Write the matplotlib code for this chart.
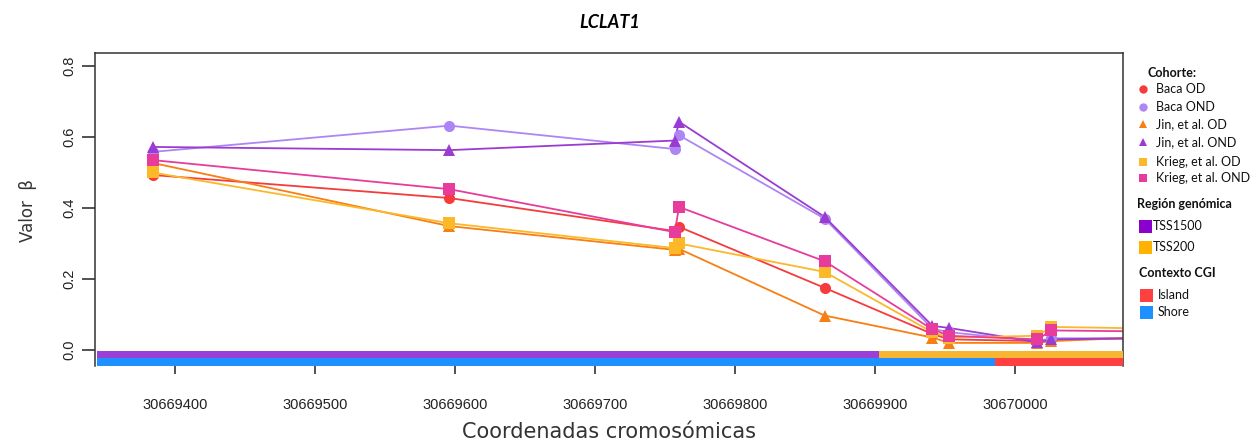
import matplotlib
matplotlib.use("Agg")
import matplotlib.pyplot as plt
from matplotlib.patches import Rectangle

# CpG coordinates (last one lies just beyond the plotted window)
positions = [30669384, 30669596, 30669757, 30669760, 30669864,
             30669941, 30669953, 30670016, 30670026, 30670150]

cohorts = ["Baca OD", "Baca OND", "Jin, et al. OD", "Jin, et al. OND",
           "Krieg, et al. OD", "Krieg, et al. OND"]
baca_od = [0.493, 0.428, 0.335, 0.347, 0.175, 0.045, 0.030, 0.025, 0.030, 0.036]
baca_ond = [0.558, 0.632, 0.566, 0.605, 0.370, 0.060, 0.050, 0.025, 0.033, 0.033]
jin_od = [0.527, 0.349, 0.282, 0.285, 0.097, 0.035, 0.020, 0.020, 0.025, 0.045]
jin_ond = [0.572, 0.563, 0.590, 0.643, 0.375, 0.068, 0.062, 0.022, 0.030, 0.036]
krieg_od = [0.500, 0.357, 0.287, 0.300, 0.220, 0.050, 0.035, 0.040, 0.065, 0.057]
krieg_ond = [0.535, 0.453, 0.332, 0.403, 0.250, 0.058, 0.040, 0.030, 0.055, 0.050]
series = [baca_od, baca_ond, jin_od, jin_ond, krieg_od, krieg_ond]
colors = ["#F53B3B", "#AD85F5", "#F77F14", "#9A3BD1", "#FBB829", "#E83C9C"]
markers = ["o", "o", "^", "^", "s", "s"]

# Annotation tracks
region_names = ["TSS1500", "TSS200"]
region_bounds = [30669344, 30669903, 30670077]
region_colors = ["#9B40D6", "#F8B531"]
region_legend_colors = ["#8A00CC", "#FFB300"]

cgi_names = ["Island", "Shore"]
cgi_bounds = [30669344, 30669986, 30670077]
cgi_track_colors = ["#1E90FF", "#FF4040"]   # Shore then Island along the track
cgi_legend_colors = ["#FF4040", "#1E90FF"]

xticks = [30669400, 30669500, 30669600, 30669700, 30669800, 30669900, 30670000]
yticks = [0.0, 0.2, 0.4, 0.6, 0.8]

W, H = 1260, 441
fig = plt.figure(figsize=(W / 100, H / 100), dpi=100)
ax = fig.add_axes([95 / W, 1 - 366 / H, (1123 - 95) / W, (366 - 53) / H])
ax.set_xlim(30669342.9, 30670077.1)
ax.set_ylim(-0.0451, 0.8366)

for vals, c in zip(series, colors):
    ax.plot(positions, vals, color=c, lw=1.3, zorder=2)
for vals, c, m in zip(series, colors, markers):
    ms = 9 if m == "^" else 8
    ax.plot(positions, vals, linestyle="none", marker=m, color=c,
            markersize=ms, markeredgewidth=0, zorder=3)

# genomic region track and CGI context track
for i in range(2):
    ax.add_patch(Rectangle((region_bounds[i], -0.0225),
                           region_bounds[i + 1] - region_bounds[i], 0.0197,
                           facecolor=region_colors[i], edgecolor="none", zorder=4))
    ax.add_patch(Rectangle((cgi_bounds[i], -0.0451),
                           cgi_bounds[i + 1] - cgi_bounds[i], 0.0226,
                           facecolor=cgi_track_colors[i], edgecolor="none", zorder=4))

for s in ["left", "top", "right"]:
    ax.spines[s].set_color("#333333")
    ax.spines[s].set_linewidth(1.1)
ax.spines["bottom"].set_visible(False)

ax.set_xticks(xticks)
ax.set_xticklabels([str(t) for t in xticks], family="Liberation Sans", fontsize=10.5)
ax.tick_params(axis="x", direction="out", length=6, width=1.1, pad=17, colors="#222222")
ax.set_yticks(yticks)
ax.set_yticklabels([f"{t:.1f}" for t in yticks], family="Liberation Sans",
                   fontsize=10.5, rotation=90, va="center")
ax.tick_params(axis="y", direction="out", length=9.5, width=1.1, pad=4, colors="#222222")

fig.text(610 / W, 1 - 22 / H, "LCLAT1", ha="center", va="center",
         family="Lato", fontweight="bold", fontstyle="italic", fontsize=13)
fig.text(609 / W, 1 - 432 / H, "Coordenadas cromosómicas", ha="center", va="center",
         family="DejaVu Sans", fontsize=15, color="#333333")
fig.text(28 / W, 1 - 210 / H, "Valor  β", ha="center", va="center", rotation=90,
         family="DejaVu Sans", fontsize=12, color="#333333")

# legend drawn in pixel coordinates on an overlay
lg = fig.add_axes([0, 0, 1, 1], facecolor="none")
lg.set_xlim(0, W)
lg.set_ylim(H, 0)
lg.axis("off")

lfont = dict(family="Lato", fontsize=9, va="center", ha="left", color="#111111")
lg.text(1147, 73, "Cohorte:", fontweight="bold", **lfont)
cohort_y = [89, 107, 124, 142, 162, 178]
for name, c, m, y in zip(cohorts, colors, markers, cohort_y):
    lg.plot([1143], [y], marker=m, color=c, markersize=6 if m != "s" else 5.5,
            markeredgewidth=0, linestyle="none")
    lg.text(1156, y, name, **lfont)

lg.text(1137, 204, "Región genómica", fontweight="bold", **lfont)
for name, c, y in zip(region_names, region_legend_colors, [226, 247]):
    lg.add_patch(Rectangle((1139, y - 6.5), 13, 13, facecolor=c, edgecolor="none"))
    lg.text(1153, y, name, **lfont)

lg.text(1139, 273, "Contexto CGI", fontweight="bold", **lfont)
for name, c, y in zip(cgi_names, cgi_legend_colors, [295, 312]):
    lg.add_patch(Rectangle((1140, y - 6.5), 13, 13, facecolor=c, edgecolor="none"))
    lg.text(1158, y, name, **lfont)

fig.savefig("out.png", dpi=100)
